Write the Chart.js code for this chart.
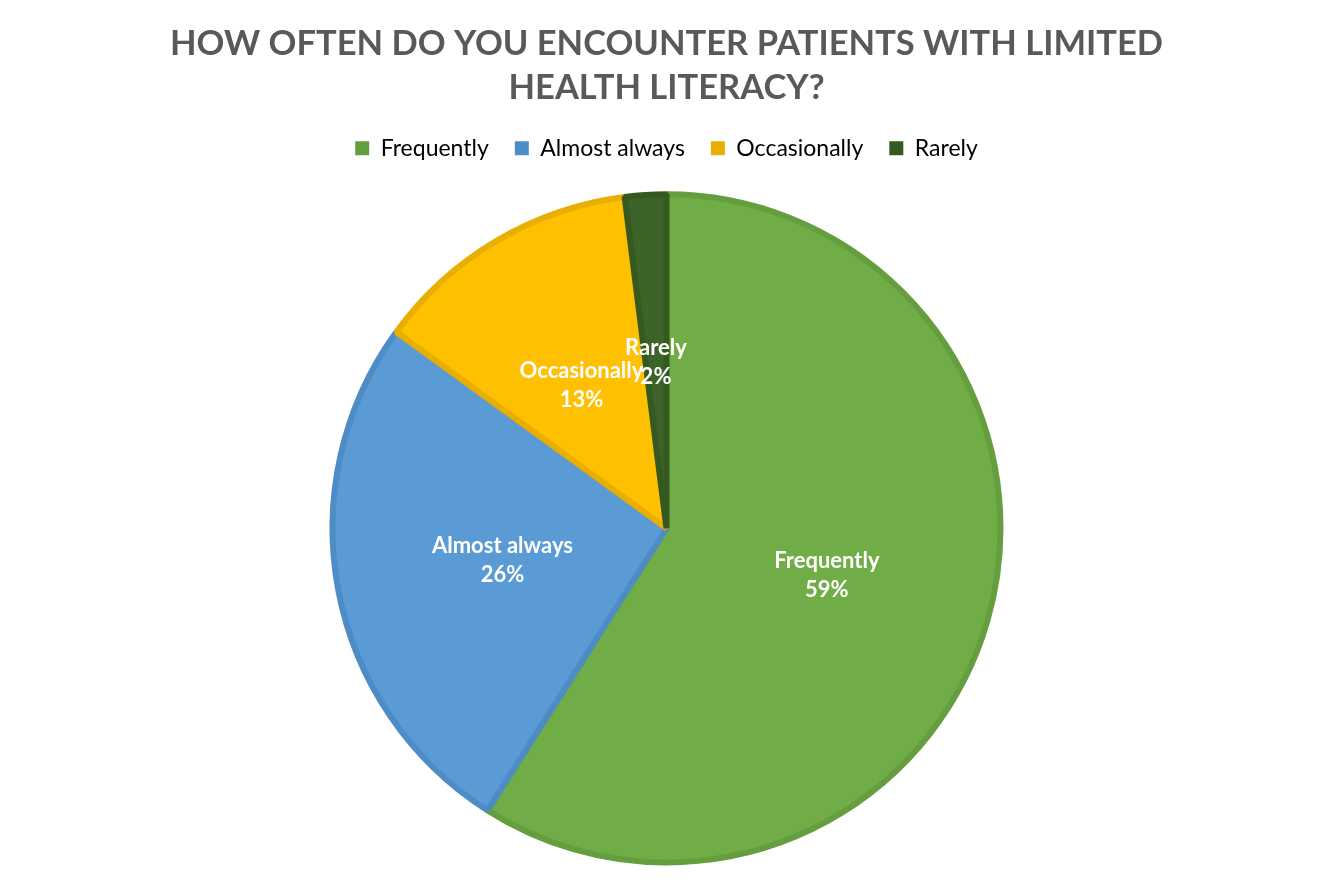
<!DOCTYPE html>
<html>
<head>
<meta charset="utf-8">
<script src="https://cdn.jsdelivr.net/npm/chart.js@4.4.1/dist/chart.umd.min.js"></script>
<style>
  html, body { margin: 0; padding: 0; background: #fff; }
  #wrap { width: 1333px; height: 887px; position: relative; }
</style>
</head>
<body>
<div id="wrap"><canvas id="pie"></canvas></div>
<script>
// ─── Data ───
const categories = ['Frequently', 'Almost always', 'Occasionally', 'Rarely'];
const shares = [59, 26, 13, 2];
const fillColors = ['#70AD47', '#5B9BD5', '#FFC000', '#3C6428'];
const edgeColors = ['#649E3F', '#4E8CC6', '#E8AE02', '#345A21'];
const titleLines = ['HOW OFTEN DO YOU ENCOUNTER PATIENTS WITH LIMITED', 'HEALTH LITERACY?'];

const FONT = 'Lato, "Open Sans", sans-serif';
const GREY = '#595959';

// ─── Slice labels: name + percent, white bold, at mid-radius ───
const sliceLabels = {
  id: 'sliceLabels',
  afterDatasetsDraw(chart) {
    const { ctx } = chart;
    const meta = chart.getDatasetMeta(0);
    ctx.save();
    ctx.fillStyle = '#fff';
    ctx.font = `bold 22px ${FONT}`;
    ctx.textAlign = 'center';
    ctx.textBaseline = 'middle';
    meta.data.forEach((arc, i) => {
      const p = arc.tooltipPosition();
      ctx.fillText(categories[i], p.x, p.y - 14);
      ctx.fillText(shares[i] + '%', p.x, p.y + 15);
    });
    ctx.restore();
  }
};

new Chart(document.getElementById('pie'), {
  type: 'pie',
  data: {
    labels: categories,
    datasets: [{ data: shares, backgroundColor: fillColors, borderColor: edgeColors, borderWidth: 6, radius: 334 }]
  },
  options: {
    responsive: true,
    maintainAspectRatio: false,
    animation: false,
    layout: { padding: { top: 6, bottom: 0 } },
    plugins: {
      tooltip: { enabled: false },
      title: {
        display: true,
        text: titleLines,
        color: GREY,
        font: { family: FONT, size: 34.5, weight: 'bold', lineHeight: 1.3 },
        padding: { top: 15, bottom: 0 }
      },
      legend: {
        position: 'top',
        labels: {
          color: GREY,
          font: { family: FONT, size: 23 },
          boxWidth: 14,
          boxHeight: 14,
          padding: 26,
          generateLabels: chart => categories.map((c, i) => ({
            text: c, fillStyle: edgeColors[i], strokeStyle: edgeColors[i], lineWidth: 0, index: i, hidden: false
          }))
        }
      }
    }
  },
  plugins: [sliceLabels]
});
</script>
</body>
</html>
